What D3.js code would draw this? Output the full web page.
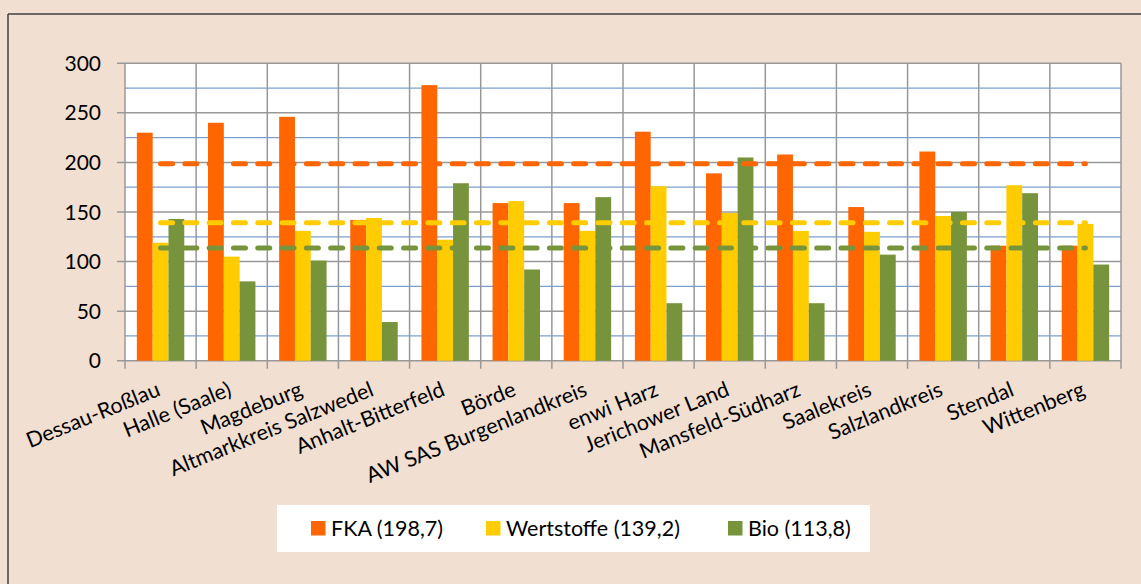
<!DOCTYPE html>
<html>
<head>
<meta charset="utf-8">
<script src="https://cdn.jsdelivr.net/npm/d3@7"></script>
<style>
  body { margin: 0; background: #F1DFD2; }
  svg { display: block; font-family: Lato, "Open Sans", sans-serif; }
</style>
</head>
<body>
<div id="chart"></div>
<script>
// Abfallmengen je Entsorgungsgebiet, with the mean of each stream as a dashed line
var categories = ["Dessau-Roßlau", "Halle (Saale)", "Magdeburg", "Altmarkkreis Salzwedel",
  "Anhalt-Bitterfeld", "Börde", "AW SAS Burgenlandkreis", "enwi Harz", "Jerichower Land",
  "Mansfeld-Südharz", "Saalekreis", "Salzlandkreis", "Stendal", "Wittenberg"];
var seriesNames = ["FKA", "Wertstoffe", "Bio"];
var fka        = [230, 240, 246, 142, 278, 159, 159, 231, 189, 208, 155, 211, 116, 116];
var wertstoffe = [119, 105, 131, 144, 122, 161, 131, 176, 149, 131, 130, 146, 177, 138];
var bio        = [143,  80, 101,  39, 179,  92, 165,  58, 205,  58, 107, 150, 169,  97];
var averages   = [198.7, 139.2, 113.8];
var averageLabels = ["198,7", "139,2", "113,8"];
var yTicks = [0, 50, 100, 150, 200, 250, 300];
var yMinorTicks = [25, 75, 125, 175, 225, 275];

var colors = ["#FF6600", "#FFCC00", "#77933C"];
var values = [fka, wertstoffe, bio];

var W = 1141, H = 584;
var svg = d3.select("#chart").append("svg").attr("width", W).attr("height", H);

// outer frame (only left and top edges are visible in the picture)
svg.append("rect").attr("width", W).attr("height", H).attr("fill", "#F1DFD2");
svg.append("line").attr("x1", 8).attr("x2", 8).attr("y1", 14).attr("y2", H)
  .attr("stroke", "#404040").attr("stroke-width", 1.5);
svg.append("line").attr("x1", 8).attr("x2", W).attr("y1", 14).attr("y2", 14)
  .attr("stroke", "#404040").attr("stroke-width", 1.5);

var plot = { left: 125, right: 1121, top: 63.3, bottom: 360.7 };

var x = d3.scaleBand().domain(categories).range([plot.left, plot.right]);
var xs = d3.scaleBand().domain(seriesNames).range([0, x.bandwidth()])
  .paddingInner(0).paddingOuter(0.75);
var y = d3.scaleLinear().domain([0, 300]).range([plot.bottom, plot.top]);

svg.append("rect")
  .attr("x", plot.left).attr("y", plot.top)
  .attr("width", plot.right - plot.left).attr("height", plot.bottom - plot.top)
  .attr("fill", "#fff");

// minor (blue) and major (gray) horizontal gridlines
svg.append("g").selectAll("line").data(yMinorTicks).join("line")
  .attr("x1", plot.left).attr("x2", plot.right)
  .attr("y1", d => y(d)).attr("y2", d => y(d))
  .attr("stroke", "#7C9FD0").attr("stroke-width", 1.3);
svg.append("g").selectAll("line").data(yTicks).join("line")
  .attr("x1", plot.left - 8).attr("x2", plot.right)
  .attr("y1", d => y(d)).attr("y2", d => y(d))
  .attr("stroke", "#989898").attr("stroke-width", 1.5);

// vertical gridlines at category boundaries, with ticks below the axis
var bounds = categories.map(c => x(c)).concat([plot.right]);
svg.append("g").selectAll("line").data(bounds).join("line")
  .attr("x1", d => d).attr("x2", d => d)
  .attr("y1", plot.top).attr("y2", plot.bottom + 8)
  .attr("stroke", "#989898").attr("stroke-width", 1.5);

// bars
seriesNames.forEach(function (s, si) {
  svg.append("g").selectAll("rect").data(values[si]).join("rect")
    .attr("x", (d, i) => x(categories[i]) + xs(s))
    .attr("width", xs.bandwidth())
    .attr("y", d => y(d))
    .attr("height", d => y(0) - y(d))
    .attr("fill", colors[si]);
});

// dashed average lines from first to last category centre
var first = x(categories[0]) + x.bandwidth() / 2,
    last = x(categories[categories.length - 1]) + x.bandwidth() / 2;
svg.append("g").selectAll("line").data(averages).join("line")
  .attr("x1", first).attr("x2", last)
  .attr("y1", d => y(d)).attr("y2", d => y(d))
  .attr("stroke", (d, i) => colors[i])
  .attr("stroke-width", 5)
  .attr("stroke-linecap", "round")
  .attr("stroke-dasharray", "12 12.3");

// y tick labels
svg.append("g").selectAll("text").data(yTicks).join("text")
  .attr("x", 101).attr("y", d => y(d))
  .attr("dy", "0.36em")
  .attr("text-anchor", "end")
  .style("font-size", "21px")
  .attr("fill", "#000")
  .text(d => d);

// category labels, rotated, ending at the category centre
svg.append("g").selectAll("text").data(categories).join("text")
  .attr("transform", d => "translate(" + (x(d) + x.bandwidth() / 2 + 1) + ",395) rotate(-22)")
  .attr("text-anchor", "end")
  .style("font-size", "21.5px")
  .attr("fill", "#000")
  .text(d => d);

// legend
var legend = svg.append("g");
legend.append("rect").attr("x", 277).attr("y", 505).attr("width", 593).attr("height", 47)
  .attr("fill", "#fff");
var legendX = [311, 486, 728];
seriesNames.forEach(function (s, i) {
  legend.append("rect").attr("x", legendX[i]).attr("y", 521)
    .attr("width", 14.5).attr("height", 14.5).attr("fill", colors[i]);
  legend.append("text").attr("x", legendX[i] + 20).attr("y", 528.5)
    .attr("dy", "0.36em")
    .style("font-size", "21.5px")
    .attr("fill", "#000")
    .text(s + " (" + averageLabels[i] + ")");
});
</script>
</body>
</html>
